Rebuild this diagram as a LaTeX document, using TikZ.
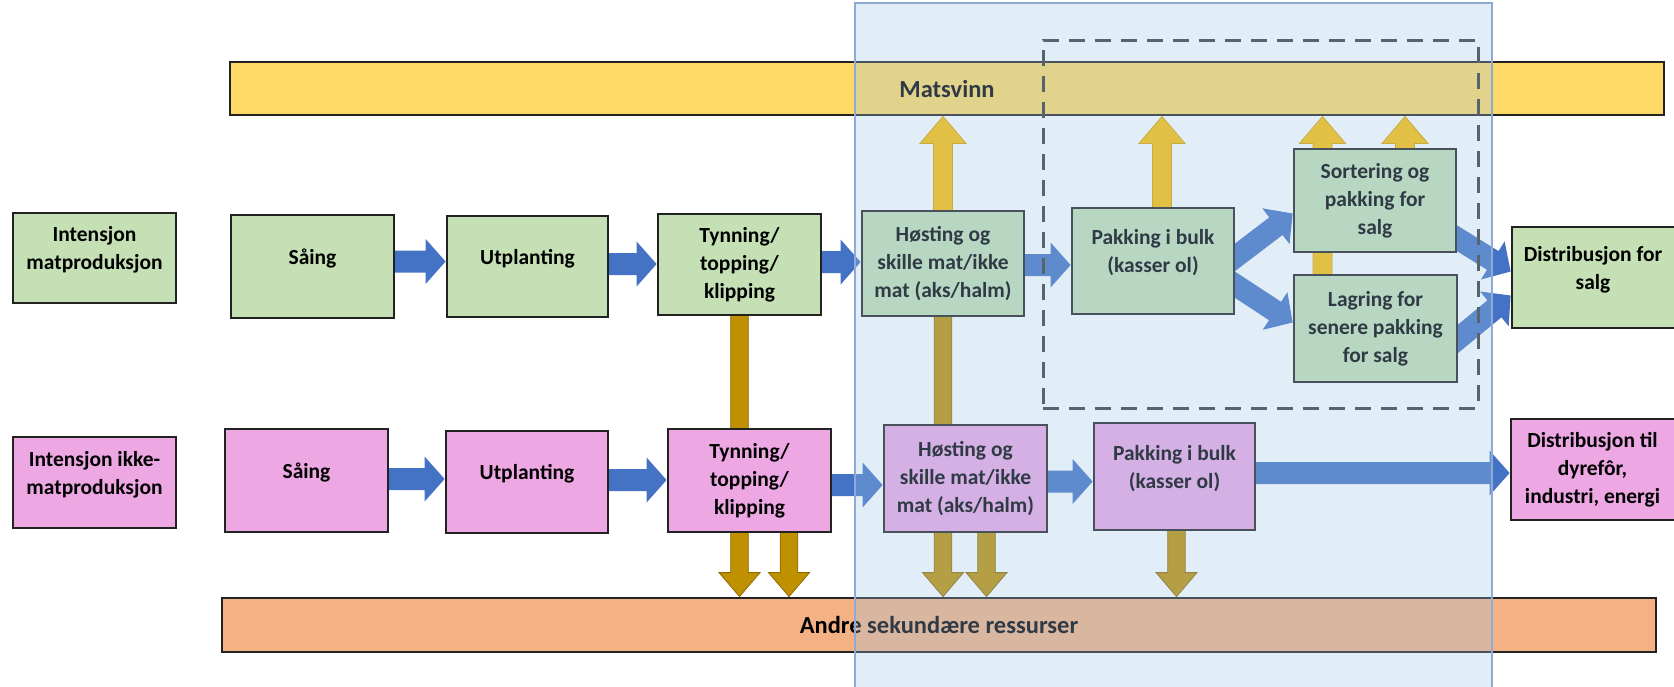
\documentclass[tikz,border=0pt]{standalone}
\usepackage{fontspec}
\setmainfont{Carlito}
\usetikzlibrary{calc}
\definecolor{boxgreen}{HTML}{C5E0B4}
\definecolor{boxpink}{HTML}{EDA8E4}
\definecolor{bordc}{HTML}{222222}
\definecolor{barY}{HTML}{FFD966}
\definecolor{barO}{HTML}{F4B183}
\definecolor{arrblue}{HTML}{4472C4}
\definecolor{arryel}{HTML}{FFC000}
\definecolor{arryell}{HTML}{D9A300}
\definecolor{arrgold}{HTML}{BF9000}
\definecolor{arrgoldl}{HTML}{8F6C00}
\definecolor{ovl}{HTML}{9DC3E6}
\definecolor{ovlb}{HTML}{8FAAD6}
\definecolor{dashc}{HTML}{3A3A3A}
\pgfdeclarelayer{back}
\pgfdeclarelayer{front}
\pgfsetlayers{back,main,front}
\newcommand\bx[7]{\node[#6, minimum width={(#4-#2)*1pt}, minimum height={(#5-#3)*1pt}] (#1) at ({(#2+#4)/2},{(#3+#5)/2}) {#7};}
% block arrow: style, start, end, half shaft, half head, head length
\newcommand\barrow[6]{%
  \path #2 coordinate (ba-s);
  \path #3 coordinate (ba-e);
  \path ($(ba-s)!-10pt!(ba-e)$) coordinate (ba-t);
  \path ($(ba-e)!#6!(ba-s)$) coordinate (ba-c);
  \filldraw[#1] ($(ba-t)!#4!90:(ba-e)$) -- ($(ba-c)!#4!90:(ba-e)$) -- ($(ba-c)!#5!90:(ba-e)$) -- (ba-e) -- ($(ba-c)!#5!-90:(ba-e)$) -- ($(ba-c)!#4!-90:(ba-e)$) -- ($(ba-t)!#4!-90:(ba-e)$) -- cycle;}
\newcommand\blueh[3]{\barrow{bluea}{($(#1.east)+(0,#3)$)}{(ba-s -| #2.west)}{11pt}{22.5pt}{20pt}}
\newcommand\blued[4]{\barrow{bluea}{($(#1.east)+(0,#3)$)}{($(#2.west)+(0,#4)$)}{11pt}{22.5pt}{21pt}}
\newcommand\yelup[2]{\barrow{yela}{($(#1.north)+(#2,0)$)}{(ba-s |- mats.south)}{9.5pt}{23pt}{27pt}}
\newcommand\golddown[2]{\barrow{gola}{($(#1.south)+(#2,0)$)}{(ba-s |- andre.north)}{8.8pt}{20.5pt}{24pt}}
\begin{document}
\begin{tikzpicture}[x=1pt,y=-1pt,
  box/.style={draw=bordc, line width=2.8pt, align=center, inner sep=2pt,
    font=\bfseries\fontsize{21.5}{28}\selectfont},
  green/.style={box, fill=boxgreen},
  pink/.style={box, fill=boxpink},
  raised/.style={text depth=20pt},
  ybar/.style={box, fill=barY, font=\bfseries\fontsize{24.5}{30}\selectfont},
  obar/.style={box, fill=barO, font=\bfseries\fontsize{24.5}{30}\selectfont},
  bluea/.style={fill=arrblue, draw=none},
  yela/.style={fill=arryel, draw=arryell, line width=0.8pt},
  gola/.style={fill=arrgold, draw=arrgoldl, line width=0.8pt},
  overlaybox/.style={fill=ovl, fill opacity=0.3, draw=ovlb, draw opacity=1, line width=1.3pt},
  dashbox/.style={draw=dashc, line width=3pt, dash pattern=on 16pt off 10pt}]
\useasboundingbox (0,0) rectangle (1674,686);
\clip (0,0) rectangle (1674,686);
% bars
\bx{mats}{230}{62}{1664}{115}{ybar}{Matsvinn}
\bx{andre}{222}{598}{1656}{652}{obar}{Andre sekundære ressurser}
% food production row
\bx{gi}{13}{213}{176}{303}{green,raised}{Intensjon\\matproduksjon}
\bx{gs}{231}{215}{394}{318}{green,raised}{Såing}
\bx{gu}{447}{216}{608}{317}{green,raised}{Utplanting}
\bx{gt}{658}{214}{821}{315}{green}{Tynning/\\topping/\\klipping}
\bx{gh}{862}{211}{1024}{316}{green}{Høsting og\\skille mat/ikke\\mat (aks/halm)}
\bx{gp}{1072}{208}{1234}{314}{green,raised}{Pakking i bulk\\(kasser ol)}
\bx{gso}{1294}{149}{1456}{252}{green}{Sortering og\\pakking for\\salg}
\bx{gl}{1294}{275}{1457}{382}{green}{Lagring for\\senere pakking\\for salg}
\bx{gd}{1512}{227}{1690}{328}{green,raised}{\hspace*{-16pt}Distribusjon for\\\hspace*{-16pt}salg}
% non-food row
\bx{pi}{13}{437}{176}{528}{pink,raised}{Intensjon ikke-\\matproduksjon}
\bx{ps}{225}{429}{388}{532}{pink,raised}{Såing}
\bx{pu}{446}{431}{608}{533}{pink,raised}{Utplanting}
\bx{pt}{668}{429}{831}{532}{pink}{Tynning/\\topping/\\klipping}
\bx{ph}{884}{425}{1047}{532}{pink}{Høsting og\\skille mat/ikke\\mat (aks/halm)}
\bx{pp}{1094}{423}{1255}{530}{pink,raised}{Pakking i bulk\\(kasser ol)}
\bx{pd}{1511}{419}{1690}{520}{pink}{\hspace*{-16pt}Distribusjon til\\\hspace*{-16pt}dyrefôr,\\\hspace*{-16pt}industri, energi}
% arrows behind the boxes
\begin{pgfonlayer}{back}
\blueh{gs}{gu}{-5}
\blueh{gu}{gt}{-2.5}
\blueh{gt}{gh}{-2.5}
\blueh{gh}{gp}{1.5}
\blued{gp}{gso}{-4}{13}
\blued{gp}{gl}{24}{-6}
\blued{gso}{gd}{38}{-6}
\blued{gl}{gd}{10}{18}
\blueh{ps}{pu}{-1.5}
\blueh{pu}{pt}{-2}
\blueh{pt}{ph}{4.5}
\blueh{ph}{pp}{3}
\blueh{pp}{pd}{-3.5}
\yelup{gh}{0}
\yelup{gp}{9}
\yelup{gl}{-53}
\yelup{gso}{30}
\golddown{gt}{0}
\golddown{pt}{39.5}
\golddown{gh}{0}
\golddown{ph}{21}
\golddown{pp}{2}
\end{pgfonlayer}
% dashed group and highlighted region
\node[dashbox, minimum width=435pt, minimum height=368pt, inner sep=0pt] (grp) at (1260.5,224) {};
\begin{pgfonlayer}{front}
\node[overlaybox, minimum width=637pt, minimum height=690pt, inner sep=0pt] (hl) at (1173.5,348) {};
\end{pgfonlayer}
\end{tikzpicture}
\end{document}
